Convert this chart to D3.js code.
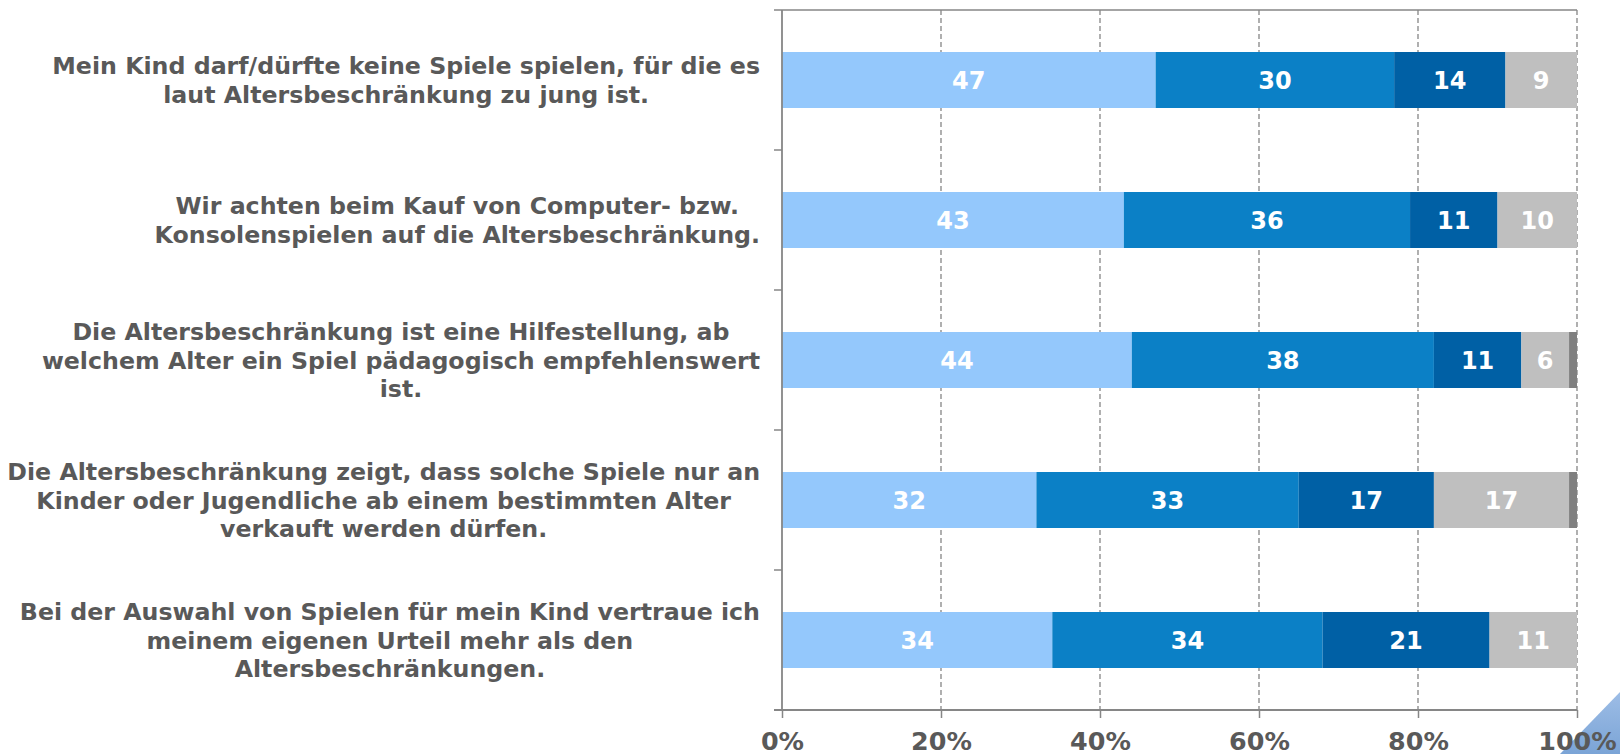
<!DOCTYPE html>
<html>
<head>
<meta charset="utf-8">
<script src="https://cdn.jsdelivr.net/npm/d3@7"></script>
<style>
  html, body { margin: 0; padding: 0; background: #ffffff; }
  svg { display: block; }
</style>
</head>
<body>
<svg id="chart" width="1620" height="754"></svg>
<script>
// Statements (each wrapped into lines as shown on the left of the bars)
const categories = [
  ["Mein Kind darf/dürfte keine Spiele spielen, für die es", "laut Altersbeschränkung zu jung ist."],
  ["Wir achten beim Kauf von Computer- bzw.", "Konsolenspielen auf die Altersbeschränkung."],
  ["Die Altersbeschränkung ist eine Hilfestellung, ab", "welchem Alter ein Spiel pädagogisch empfehlenswert", "ist."],
  ["Die Altersbeschränkung zeigt, dass solche Spiele nur an", "Kinder oder Jugendliche ab einem bestimmten Alter", "verkauft werden dürfen."],
  ["Bei der Auswahl von Spielen für mein Kind vertraue ich", "meinem eigenen Urteil mehr als den", "Altersbeschränkungen."]
];

// Shares in percent, one array per answer level
const series1 = [47, 43, 44, 32, 34];
const series2 = [30, 36, 38, 33, 34];
const series3 = [14, 11, 11, 17, 21];
const series4 = [9, 10, 6, 17, 11];
const series5 = [0, 0, 1, 1, 0];

const seriesColors = ["#94c8fc", "#0b80c6", "#0060a5", "#bfbfbf", "#808080"];
const seriesLabelled = [true, true, true, true, false];

const xTicks = [0, 20, 40, 60, 80, 100];
const xTickLabels = ["0%", "20%", "40%", "60%", "80%", "100%"];

const allSeries = [series1, series2, series3, series4, series5];

const svg = d3.select("#chart");
const W = 1620, H = 754;
const plot = { left: 782, right: 1577, top: 10, bottom: 710 };
const textColor = "#595959";
const axisColor = "#868686";
const fontFamily = "'DejaVu Sans', Verdana, sans-serif";

const keys = categories.map((c, i) => i);

const x = d3.scaleLinear().domain([0, 100]).range([plot.left, plot.right]);
const y = d3.scaleBand().domain(keys).range([plot.top, plot.bottom])
  .paddingInner(0.6).paddingOuter(0.3);

// Stack the series for each statement
const rows = keys.map(i => {
  const r = { key: i };
  allSeries.forEach((s, k) => { r["s" + k] = s[i]; });
  return r;
});
const stack = d3.stack().keys(allSeries.map((s, k) => "s" + k));
const stacked = stack(rows);

// Decorative page corner at the bottom right
const defs = svg.append("defs");
const grad = defs.append("linearGradient").attr("id", "cornerGrad")
  .attr("x1", "0").attr("y1", "0").attr("x2", "0").attr("y2", "1");
grad.append("stop").attr("offset", "0%").attr("stop-color", "#9dbde6");
grad.append("stop").attr("offset", "100%").attr("stop-color", "#7ba4d6");
svg.append("path")
  .attr("d", `M${W - 60},${H} L${W},${H - 62} L${W},${H} Z`)
  .attr("fill", "url(#cornerGrad)");

// Vertical dashed gridlines
svg.append("g").selectAll("line")
  .data(xTicks.filter(t => t > 0))
  .join("line")
  .attr("x1", d => x(d)).attr("x2", d => x(d))
  .attr("y1", plot.top).attr("y2", plot.bottom)
  .attr("stroke", axisColor).attr("stroke-width", 1.3)
  .attr("stroke-dasharray", "5,3");

// Top border of the plot area
svg.append("line")
  .attr("x1", plot.left).attr("x2", plot.right)
  .attr("y1", plot.top).attr("y2", plot.top)
  .attr("stroke", axisColor).attr("stroke-width", 1.5);

// Bars
const layers = svg.append("g").selectAll("g")
  .data(stacked)
  .join("g")
  .attr("fill", (d, k) => seriesColors[k]);

layers.selectAll("rect")
  .data(d => d)
  .join("rect")
  .attr("x", d => x(d[0]))
  .attr("width", d => x(d[1]) - x(d[0]))
  .attr("y", d => y(d.data.key))
  .attr("height", y.bandwidth());

// Value labels inside the segments
stacked.forEach((layer, k) => {
  if (!seriesLabelled[k]) return;
  svg.append("g").selectAll("text")
    .data(layer.filter(d => d[1] - d[0] > 0))
    .join("text")
    .attr("x", d => (x(d[0]) + x(d[1])) / 2)
    .attr("y", d => y(d.data.key) + y.bandwidth() / 2)
    .attr("dy", "0.36em")
    .attr("text-anchor", "middle")
    .attr("fill", "#ffffff")
    .attr("font-family", fontFamily)
    .attr("font-weight", "bold")
    .attr("font-size", 24)
    .text(d => d[1] - d[0]);
});

// Y axis with ticks at the category boundaries
const step = y.step();
const boundaries = keys.map(i => y(i) - (step - y.bandwidth()) / 2).concat([plot.bottom]);
svg.append("line")
  .attr("x1", plot.left).attr("x2", plot.left)
  .attr("y1", plot.top).attr("y2", plot.bottom)
  .attr("stroke", axisColor).attr("stroke-width", 1.8);
svg.append("g").selectAll("line")
  .data(boundaries)
  .join("line")
  .attr("x1", plot.left - 8).attr("x2", plot.left)
  .attr("y1", d => d).attr("y2", d => d)
  .attr("stroke", axisColor).attr("stroke-width", 1.5);

// X axis
const xAxis = d3.axisBottom(x).tickValues(xTicks)
  .tickFormat((d, i) => xTickLabels[i]).tickSize(8).tickSizeOuter(0);
const gx = svg.append("g").attr("transform", `translate(0,${plot.bottom})`).call(xAxis);
gx.select(".domain").remove();
gx.append("line")
  .attr("x1", plot.left - 8).attr("x2", plot.right)
  .attr("y1", 0).attr("y2", 0)
  .attr("stroke", axisColor).attr("stroke-width", 1.8);
gx.selectAll(".tick line").attr("stroke", axisColor).attr("stroke-width", 1.5);
gx.selectAll(".tick text")
  .attr("fill", textColor)
  .attr("font-family", fontFamily)
  .attr("font-weight", "bold")
  .attr("font-size", 25.4)
  .attr("y", 0).attr("dy", 0)
  .attr("transform", "translate(0,40)");

// Category labels: block right-aligned to the axis, lines centred in the block
const labelRight = 760;
const lineHeight = 28.7;
const labelGroup = svg.append("g")
  .attr("fill", textColor)
  .attr("font-family", fontFamily)
  .attr("font-weight", "bold")
  .attr("font-size", 23.7);

categories.forEach((lines, i) => {
  const cy = y(i) + y.bandwidth() / 2;
  const texts = lines.map((ln, j) =>
    labelGroup.append("text")
      .attr("y", cy + (j - (lines.length - 1) / 2) * lineHeight)
      .attr("dy", "0.36em")
      .attr("text-anchor", "middle")
      .text(ln));
  const widths = texts.map(t => t.node().getComputedTextLength());
  const blockW = d3.max(widths);
  texts.forEach(t => t.attr("x", labelRight - blockW / 2));
});
</script>
</body>
</html>
